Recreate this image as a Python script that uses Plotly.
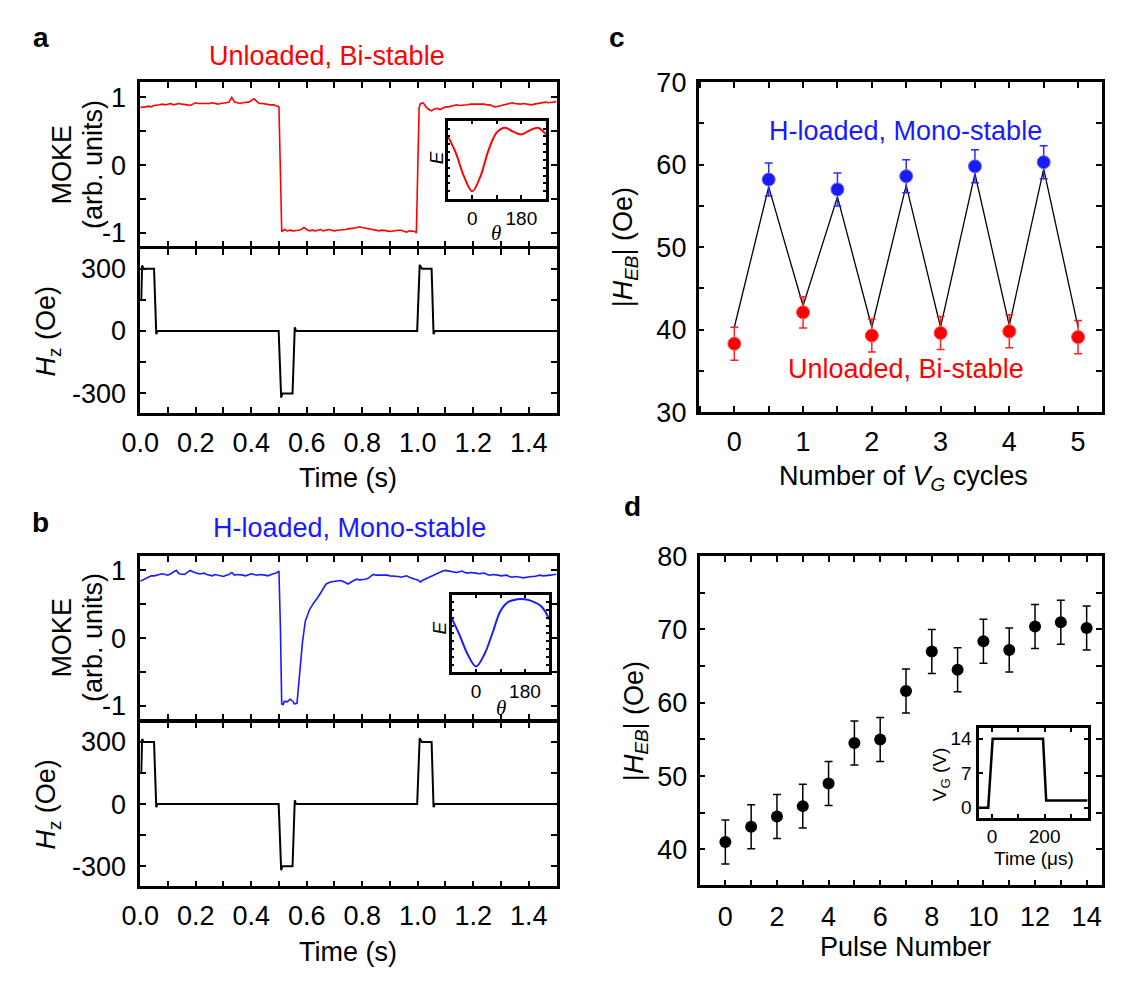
import plotly.graph_objects as go

W, H = 1124, 981
FONT = "Liberation Sans, Arial, Helvetica, sans-serif"
SERIF = "Liberation Serif, Times New Roman, serif"

# ---------------- data ----------------
# panel a: MOKE signal, unloaded (red)
a_t = [0.00, 0.01, 0.02, 0.03, 0.04, 0.05, 0.06, 0.07, 0.08, 0.09,
       0.10, 0.11, 0.12, 0.13, 0.14, 0.15, 0.16, 0.17, 0.18, 0.19,
       0.20, 0.21, 0.22, 0.23, 0.24, 0.25, 0.26, 0.27, 0.28, 0.29,
       0.30, 0.31, 0.32, 0.33, 0.34, 0.35, 0.36, 0.37, 0.38, 0.39,
       0.40, 0.41, 0.42, 0.43, 0.44, 0.45, 0.46, 0.47, 0.48, 0.49,
       0.50,
       0.51, 0.52, 0.53, 0.54, 0.55, 0.56, 0.57, 0.58, 0.59,
       0.60, 0.61, 0.62, 0.63, 0.64, 0.65, 0.66, 0.67, 0.68, 0.69,
       0.70, 0.71, 0.72, 0.73, 0.74, 0.75, 0.76, 0.77, 0.78, 0.79,
       0.80, 0.81, 0.82, 0.83, 0.84, 0.85, 0.86, 0.87, 0.88, 0.89,
       0.90, 0.91, 0.92, 0.93, 0.94, 0.95, 0.96, 0.97, 0.98, 0.99,
       0.995, 1.005,
       1.01, 1.02, 1.03, 1.04, 1.05, 1.06, 1.07, 1.08, 1.09,
       1.10, 1.11, 1.12, 1.13, 1.14, 1.15, 1.16, 1.17, 1.18, 1.19,
       1.20, 1.21, 1.22, 1.23, 1.24, 1.25, 1.26, 1.27, 1.28, 1.29,
       1.30, 1.31, 1.32, 1.33, 1.34, 1.35, 1.36, 1.37, 1.38, 1.39,
       1.40, 1.41, 1.42, 1.43, 1.44, 1.45, 1.46, 1.47, 1.48, 1.49, 1.50]
a_moke = [0.85, 0.85, 0.86, 0.87, 0.86, 0.88, 0.88, 0.89, 0.90, 0.89,
          0.90, 0.91, 0.89, 0.90, 0.91, 0.90, 0.90, 0.89, 0.88, 0.90,
          0.92, 0.91, 0.91, 0.90, 0.90, 0.91, 0.92, 0.91, 0.90, 0.91,
          0.91, 0.92, 0.93, 1.00, 0.93, 0.92, 0.91, 0.92, 0.92, 0.93,
          0.95, 0.98, 0.94, 0.91, 0.91, 0.90, 0.90, 0.89, 0.89, 0.88,
          0.86,
          -0.98, -0.95, -0.97, -0.96, -0.97, -0.97, -0.96, -0.95, -0.92,
          -0.95, -0.97, -0.96, -0.97, -0.96, -0.95, -0.97, -0.96, -0.95, -0.96,
          -0.97, -0.96, -0.96, -0.95, -0.95, -0.94, -0.94, -0.93, -0.92, -0.91,
          -0.92, -0.93, -0.93, -0.95, -0.95, -0.96, -0.97, -0.96, -0.96, -0.97,
          -0.98, -0.97, -0.97, -0.96, -0.96, -0.98, -0.99, -0.97, -0.97, -0.98,
          -1.00, 0.85,
          0.91, 0.92, 0.86, 0.82, 0.80, 0.83, 0.84, 0.82, 0.84,
          0.86, 0.86, 0.87, 0.88, 0.89, 0.88, 0.88, 0.89, 0.89, 0.90,
          0.90, 0.91, 0.91, 0.90, 0.90, 0.89, 0.89, 0.87, 0.86, 0.87,
          0.88, 0.90, 0.91, 0.92, 0.92, 0.91, 0.90, 0.90, 0.91, 0.90,
          0.89, 0.89, 0.90, 0.91, 0.92, 0.92, 0.93, 0.92, 0.92, 0.93, 0.94]

# panel b: MOKE signal, H-loaded (blue)
b_t = [0.00, 0.01, 0.02, 0.03, 0.04, 0.05, 0.06, 0.07, 0.08, 0.09,
       0.10, 0.11, 0.12, 0.13, 0.14, 0.15, 0.16, 0.17, 0.18, 0.19,
       0.20, 0.21, 0.22, 0.23, 0.24, 0.25, 0.26, 0.27, 0.28, 0.29,
       0.30, 0.31, 0.32, 0.33, 0.34, 0.35, 0.36, 0.37, 0.38, 0.39,
       0.40, 0.41, 0.42, 0.43, 0.44, 0.45, 0.46, 0.47, 0.48, 0.49,
       0.495, 0.50, 0.505, 0.51, 0.515, 0.52, 0.53, 0.54, 0.55, 0.555,
       0.565, 0.575, 0.585, 0.595, 0.61, 0.625, 0.64, 0.655, 0.67, 0.685,
       0.70, 0.71, 0.72, 0.73, 0.74, 0.75, 0.76, 0.77, 0.78, 0.79,
       0.80, 0.81, 0.82, 0.83, 0.84, 0.85, 0.86, 0.87, 0.88, 0.89,
       0.90, 0.91, 0.92, 0.93, 0.94, 0.95, 0.96, 0.97, 0.98, 0.99,
       1.00, 1.01, 1.02, 1.03, 1.04, 1.05, 1.06, 1.07, 1.08, 1.09,
       1.10, 1.11, 1.12, 1.13, 1.14, 1.15, 1.16, 1.17, 1.18, 1.19,
       1.20, 1.21, 1.22, 1.23, 1.24, 1.25, 1.26, 1.27, 1.28, 1.29,
       1.30, 1.31, 1.32, 1.33, 1.34, 1.35, 1.36, 1.37, 1.38, 1.39,
       1.40, 1.41, 1.42, 1.43, 1.44, 1.45, 1.46, 1.47, 1.48, 1.49, 1.50]
b_moke = [0.84, 0.86, 0.88, 0.90, 0.92, 0.92, 0.93, 0.95, 0.95, 0.94,
          0.93, 0.95, 0.97, 1.00, 0.95, 0.94, 0.94, 0.97, 1.00, 0.98,
          0.96, 0.95, 0.95, 0.96, 0.94, 0.93, 0.92, 0.94, 0.93, 0.92,
          0.91, 0.93, 0.94, 0.97, 0.93, 0.94, 0.94, 0.93, 0.92, 0.94,
          0.95, 0.94, 0.93, 0.94, 0.94, 0.93, 0.92, 0.94, 0.95, 0.96,
          0.98, 0.99, 0.20, -0.97, -0.98, -0.93, -0.94, -0.90, -0.93, -0.97,
          -0.96, -0.50, -0.05, 0.25, 0.42, 0.52, 0.60, 0.70, 0.80, 0.83,
          0.84, 0.85, 0.85, 0.84, 0.82, 0.80, 0.83, 0.85, 0.87, 0.86,
          0.86, 0.87, 0.88, 0.91, 0.94, 0.93, 0.93, 0.94, 0.94, 0.93,
          0.92, 0.92, 0.91, 0.91, 0.90, 0.91, 0.92, 0.90, 0.88, 0.87,
          0.86, 0.83, 0.86, 0.88, 0.90, 0.92, 0.93, 0.95, 0.97, 0.99,
          1.00, 0.99, 0.99, 0.98, 0.97, 0.98, 0.99, 0.97, 0.96, 0.97,
          0.97, 0.96, 0.95, 0.96, 0.96, 0.94, 0.93, 0.94, 0.94, 0.93,
          0.92, 0.93, 0.93, 0.91, 0.90, 0.91, 0.91, 0.90, 0.89, 0.90,
          0.90, 0.91, 0.91, 0.92, 0.93, 0.92, 0.92, 0.93, 0.93, 0.94, 0.94]

# applied field pulses (same sequence for a and b)
hz_t = [0.004, 0.007, 0.012, 0.05, 0.058, 0.062, 0.499, 0.508, 0.512, 0.549, 0.557, 0.562,
        0.998, 1.007, 1.015, 1.05, 1.057, 1.062, 1.50]
hz_val = [150, 315, 300, 300, -15, 0, 0, -320, -300, -300, 18, 0,
          0, 318, 300, 300, -15, 0, 0]

# insets: energy landscapes E(theta)
theta = [-90, -60, -30, 0, 30, 60, 90, 120, 150, 180, 210, 240, 270]
E_unloaded = [0.81, 0.59, 0.29, 0.10, 0.29, 0.625, 0.85, 0.91, 0.86, 0.825, 0.875, 0.91, 0.825]
E_loaded = [0.70, 0.475, 0.225, 0.075, 0.225, 0.50, 0.79, 0.91, 0.94, 0.94, 0.91, 0.85, 0.68]

# panel c
c_x_red = [0, 1, 2, 3, 4, 5]
c_red = [38.3, 42.1, 39.3, 39.6, 39.8, 39.1]
c_red_err = [2.0, 1.9, 2.0, 2.0, 2.0, 2.0]
c_x_blue = [0.5, 1.5, 2.5, 3.5, 4.5]
c_blue = [58.2, 57.0, 58.6, 59.8, 60.3]
c_blue_err = [2.0, 2.0, 2.0, 2.0, 2.0]
c_line_x = [0, 0.5, 1, 1.5, 2, 2.5, 3, 3.5, 4, 4.5, 5]
c_line = [40.3, 57.3, 42.9, 56.1, 40.3, 57.5, 40.3, 58.9, 40.5, 59.5, 40.3]

# panel d
d_x = [0, 1, 2, 3, 4, 5, 6, 7, 8, 9, 10, 11, 12, 13, 14]
d_y = [41.0, 43.1, 44.5, 45.9, 49.0, 54.5, 55.0, 61.6, 67.0, 64.5, 68.4, 67.2, 70.4, 71.0, 70.2]
d_err = [3.0, 3.0, 3.0, 3.0, 3.0, 3.0, 3.0, 3.0, 3.0, 3.0, 3.0, 3.0, 3.0, 3.0, 3.0]

# panel d inset: gate voltage pulse
vg_t = [-52, -15, 2, 194, 206, 364]
vg_v = [0, 0, 14, 14, 1.5, 1.5]

# ---------------- helpers ----------------
def xd(l, r):
    return [l / W, r / W]

def yd(t, b):
    return [1 - b / H, 1 - t / H]

def px(x):
    return x / W

def py(y):
    return 1 - y / H

TICK = dict(ticks='inside', ticklen=6, tickwidth=2, tickcolor='black')

def axis(domain, rng, anchor, size=27, lw=2.5, **kw):
    d = dict(domain=domain, range=rng, anchor=anchor, showline=True, linewidth=lw,
             linecolor='black', mirror='ticks', showgrid=False, zeroline=False,
             tickfont=dict(family=FONT, size=size, color='black'), fixedrange=True)
    d.update(TICK)
    d.update(kw)
    return d

def minor(**kw):
    m = dict(ticks='inside', ticklen=6, tickwidth=2, tickcolor='black', showgrid=False)
    m.update(kw)
    return m

fig = go.Figure()

fig.add_trace(go.Scatter(x=a_t, y=a_moke, mode='lines', line=dict(color='#ff0000', width=1.6),
                         xaxis='x', yaxis='y'))
fig.add_trace(go.Scatter(x=hz_t, y=hz_val, mode='lines', line=dict(color='black', width=2),
                         xaxis='x2', yaxis='y2'))
fig.add_trace(go.Scatter(x=theta, y=E_unloaded, mode='lines', line=dict(color='#ff0000', width=2, shape='spline'),
                         xaxis='x3', yaxis='y3'))
fig.add_trace(go.Scatter(x=b_t, y=b_moke, mode='lines', line=dict(color='#1a1aff', width=1.6),
                         xaxis='x4', yaxis='y4'))
fig.add_trace(go.Scatter(x=hz_t, y=hz_val, mode='lines', line=dict(color='black', width=2),
                         xaxis='x5', yaxis='y5'))
fig.add_trace(go.Scatter(x=theta, y=E_loaded, mode='lines', line=dict(color='#1a1aff', width=2, shape='spline'),
                         xaxis='x6', yaxis='y6'))
fig.add_trace(go.Scatter(x=c_line_x, y=c_line, mode='lines', line=dict(color='black', width=1.3),
                         xaxis='x7', yaxis='y7'))
fig.add_trace(go.Scatter(x=c_x_red, y=c_red, mode='markers',
                         marker=dict(color='#ff0000', size=13, line=dict(color='#ff5050', width=1)),
                         error_y=dict(type='data', array=c_red_err, color='#ff2020', thickness=1.5, width=4),
                         xaxis='x7', yaxis='y7'))
fig.add_trace(go.Scatter(x=c_x_blue, y=c_blue, mode='markers',
                         marker=dict(color='#1a1aff', size=13, line=dict(color='#6a6aff', width=1)),
                         error_y=dict(type='data', array=c_blue_err, color='#2a2aff', thickness=1.5, width=4),
                         xaxis='x7', yaxis='y7'))
fig.add_trace(go.Scatter(x=d_x, y=d_y, mode='markers',
                         marker=dict(color='black', size=12),
                         error_y=dict(type='data', array=d_err, color='black', thickness=1.5, width=4),
                         xaxis='x8', yaxis='y8'))
fig.add_trace(go.Scatter(x=vg_t, y=vg_v, mode='lines', line=dict(color='black', width=2.5),
                         xaxis='x9', yaxis='y9'))

lay = dict(width=W, height=H, margin=dict(l=0, r=0, t=0, b=0), showlegend=False,
           paper_bgcolor='white', plot_bgcolor='white', font=dict(family=FONT, color='black'))

o = 1.25  # half line width: plotly draws frame lines just outside the domain
lay['xaxis'] = axis(xd(122 + o, 548 - o), [0, 1.5], 'y', tick0=0, dtick=0.2, showticklabels=False,
                    minor=minor(dtick=0.1))
lay['yaxis'] = axis(yd(68 + o, 240 - o), [-1.2, 1.225], 'x', tickvals=[-1, 0, 1], ticktext=['-1', '0', '1'],
                    minor=minor(tickvals=[-0.5, 0.5]), ticklabelstandoff=6)
lay['xaxis2'] = axis(xd(122 + o, 548 - o), [0, 1.5], 'y2', tick0=0, dtick=0.2, tickformat='.1f',
                     minor=minor(dtick=0.1), ticklabelstandoff=4)
lay['yaxis2'] = axis(yd(240 + o, 412 - o), [-395, 395], 'x2', tickvals=[-300, 0, 300],
                     ticktext=['-300', '0', '300'], minor=minor(tickvals=[-150, 150]), ticklabelstandoff=6)
lay['xaxis3'] = axis(xd(436, 536), [-90, 270], 'y3', size=19, tick0=0, dtick=180, ticklen=4,
                     minor=minor(dtick=90, ticklen=4), ticklabelstandoff=0)
lay['yaxis3'] = axis(yd(109, 190), [0, 1], 'x3', showticklabels=False, dtick=0.1, ticklen=3, tickwidth=1.5)
lay['xaxis4'] = axis(xd(122 + o, 548 - o), [0, 1.5], 'y4', tick0=0, dtick=0.2, showticklabels=False,
                     minor=minor(dtick=0.1))
lay['yaxis4'] = axis(yd(557 + o, 728 - o), [-1.2, 1.21], 'x4', tickvals=[-1, 0, 1], ticktext=['-1', '0', '1'],
                     minor=minor(tickvals=[-0.5, 0.5]), ticklabelstandoff=6)
lay['xaxis5'] = axis(xd(122 + o, 548 - o), [0, 1.5], 'y5', tick0=0, dtick=0.2, tickformat='.1f',
                     minor=minor(dtick=0.1), ticklabelstandoff=4)
lay['yaxis5'] = axis(yd(728 + o, 900 - o), [-397, 397], 'x5', tickvals=[-300, 0, 300],
                     ticktext=['-300', '0', '300'], minor=minor(tickvals=[-150, 150]), ticklabelstandoff=6)
lay['xaxis6'] = axis(xd(440, 539), [-90, 268], 'y6', size=19, tick0=0, dtick=180, ticklen=4,
                     minor=minor(dtick=90, ticklen=4), ticklabelstandoff=0)
lay['yaxis6'] = axis(yd(598, 678), [0, 1], 'x6', showticklabels=False, dtick=0.1, ticklen=3, tickwidth=1.5)
lay['xaxis7'] = axis(xd(690 + o, 1103 - o), [-0.52, 5.35], 'y7', tick0=0, dtick=1,
                     minor=minor(dtick=0.5), ticklabelstandoff=4)
lay['yaxis7'] = axis(yd(68 + o, 411 - o), [30, 70], 'x7', tick0=30, dtick=10,
                     minor=minor(dtick=5), ticklabelstandoff=4)
lay['xaxis8'] = axis(xd(691 + o, 1103 - o), [-1, 14.6], 'y8', tick0=0, dtick=2,
                     minor=minor(dtick=1), ticklabelstandoff=6)
lay['yaxis8'] = axis(yd(557 + o, 899 - o), [35.1, 80], 'x8', tick0=40, dtick=10,
                     minor=minor(dtick=5), ticklabelstandoff=4)
lay['xaxis9'] = axis(xd(976, 1087), [-52, 364], 'y9', size=19, lw=3, tick0=0, dtick=200, ticklen=4,
                     minor=minor(dtick=100, ticklen=4), ticklabelstandoff=0)
lay['yaxis9'] = axis(yd(736, 828), [-2, 16.1], 'x9', size=19, lw=3, tick0=0, dtick=7, ticklen=4,
                     ticklabelstandoff=0)

def ann(text, x, y, size=27, color='black', angle=0, family=FONT):
    return dict(text=text, x=px(x), y=py(y), xref='paper', yref='paper', showarrow=False,
                font=dict(family=family, size=size, color=color), textangle=angle,
                xanchor='center', yanchor='middle')

anns = [
    ann('<b>a</b>', 22, 23, size=28),
    ann('<b>b</b>', 22, 523, size=28),
    ann('<b>c</b>', 608, 23, size=28),
    ann('<b>d</b>', 624, 507, size=28),
    ann('Unloaded, Bi-stable', 313, 42, color='#ff0000'),
    ann('H-loaded, Mono-stable', 336, 529, color='#1a1aff'),
    ann('MOKE', 44, 154, angle=-90),
    ann('(arb. units)', 76, 154, angle=-90),
    ann('<i>H</i><sub>z</sub> (Oe)', 30, 326, angle=-90),
    ann('Time (s)', 335, 478),
    ann('MOKE', 44, 642, angle=-90),
    ann('(arb. units)', 76, 642, angle=-90),
    ann('<i>H</i><sub>z</sub> (Oe)', 30, 814, angle=-90),
    ann('Time (s)', 335, 967),
    ann('<i>E</i>', 425, 147, size=19, angle=-90),
    ann('<i>θ</i>', 485, 225, size=21, family=SERIF),
    ann('<i>E</i>', 428, 632, size=19, angle=-90),
    ann('<i>θ</i>', 490, 715, size=21, family=SERIF),
    ann('|<i>H</i><sub><i>EB</i></sub>| (Oe)', 616, 240, angle=-90),
    ann('Number of <i>V</i><sub><i>G</i></sub> cycles', 900, 478),
    ann('H-loaded, Mono-stable', 902, 120, color='#1a1aff'),
    ann('Unloaded, Bi-stable', 902, 365, color='#ff0000'),
    ann('|<i>H</i><sub><i>EB</i></sub>| (Oe)', 627, 728, angle=-90),
    ann('Pulse Number', 902, 961),
    ann('V<sub>G</sub> (V)', 938, 783, size=19, angle=-90),
    ann('Time (μs)', 1032, 870, size=19),
]
lay['annotations'] = anns

fig.update_layout(**lay)
fig.write_html("out.html", config={'displayModeBar': False},
               post_script="document.documentElement.style.margin='0';document.body.style.margin='0';"
                           "document.body.style.padding='0';document.body.style.overflow='hidden';")
